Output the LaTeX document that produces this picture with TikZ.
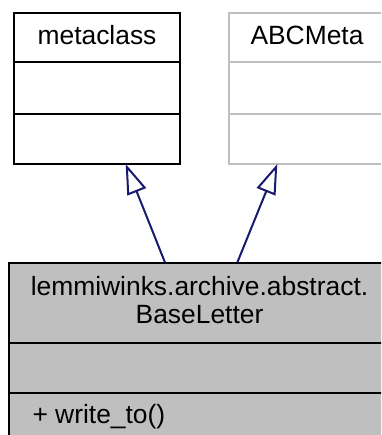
\documentclass[tikz,border=0pt]{standalone}
\usepackage{fontspec}
\setmainfont{Liberation Sans}
\usepackage{xcolor}
\usepackage{tikz}
\usetikzlibrary{arrows.meta}
\definecolor{edgeColor}{RGB}{25, 25, 112}
\definecolor{ghostColor}{RGB}{191, 191, 191}
\definecolor{classBg}{RGB}{191, 191, 191}

\begin{document}
\begin{tikzpicture}[x=1pt, y=-1pt, line width=2pt,
		font=\fontsize{26.4}{28.3}\selectfont,
		classBox/.style={draw, inner sep=0pt, outer sep=0pt},
		label/.style={inner sep=0pt},
		inherits/.style={edgeColor, -{Triangle[open, length=30pt, width=20pt]}}]
			% Canvas
			\clip (0, 0) rectangle (381, 435);
			
			% Parent class metaclass
			\node[classBox, minimum width=166pt, minimum height=151pt] (metaclass) at (97, 88.5) {};
			\draw ([yshift=-49pt]metaclass.north west) -- ([yshift=-49pt]metaclass.north east);
			\draw ([yshift=-101pt]metaclass.north west) -- ([yshift=-101pt]metaclass.north east);
			\node[label, anchor=base] (metaclassName) at ([yshift=-32pt]metaclass.north) {metaclass};
			
			% Parent class ABCMeta (not documented, gray frame)
			\node[classBox, draw=ghostColor, minimum width=156pt, minimum height=151pt] (abcMeta) at (307, 88.5) {};
			\draw[ghostColor] ([yshift=-49pt]abcMeta.north west) -- ([yshift=-49pt]abcMeta.north east);
			\draw[ghostColor] ([yshift=-101pt]abcMeta.north west) -- ([yshift=-101pt]abcMeta.north east);
			\node[label, anchor=base] (abcMetaName) at ([yshift=-32pt]abcMeta.north) {ABCMeta};
			
			% Class BaseLetter with gray fill
			\node[classBox, fill=classBg, minimum width=381pt, minimum height=180pt] (baseLetter) at (199.5, 352.5) {};
			\draw ([yshift=-80pt]baseLetter.north west) -- ([yshift=-80pt]baseLetter.north east);
			\draw ([yshift=-130pt]baseLetter.north west) -- ([yshift=-130pt]baseLetter.north east);
			\node[label, anchor=base, align=center] (baseLetterName) at ([yshift=-60.8pt]baseLetter.north) {lemmiwinks.archive.abstract.\\BaseLetter};
			\node[label, anchor=base west] (writeTo) at ([xshift=22.5pt, yshift=-161pt]baseLetter.north west) {+ write\_to()};
			
			% Inheritance arrows
			\draw[inherits] ([xshift=-34.5pt]baseLetter.north) -- ([xshift=28.7pt]metaclass.south);
			\draw[inherits] ([xshift=37.8pt]baseLetter.north) -- ([xshift=-29.7pt]abcMeta.south);
		\end{tikzpicture}
\end{document}
